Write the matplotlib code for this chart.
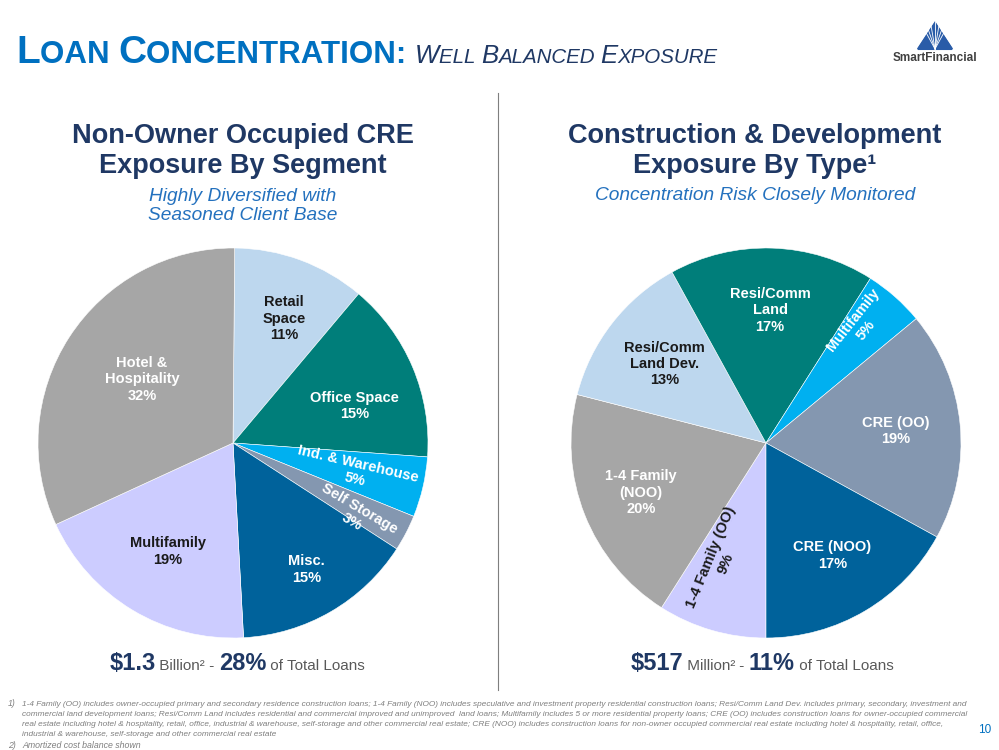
import matplotlib
matplotlib.use('Agg')
import matplotlib.pyplot as plt
import numpy as np
from matplotlib import font_manager
from matplotlib.patches import Polygon

names = {f.name for f in font_manager.fontManager.ttflist}
NARROW = 'Liberation Sans Narrow' if 'Liberation Sans Narrow' in names else 'Liberation Sans'
plt.rcParams['font.family'] = ['Liberation Sans', 'DejaVu Sans']

# data
cre_segments = ['Retail\nSpace', 'Office Space', 'Ind. & Warehouse', 'Self Storage',
                'Misc.', 'Multifamily', 'Hotel &\nHospitality']
cre_pct = [11, 15, 5, 3, 15, 19, 32]
cre_colors = ['#BDD7EE', '#007E7A', '#00B0F0', '#8497B0', '#00629B', '#CCCCFF', '#A6A6A6']

cd_types = ['1-4 Family (OO)', '1-4 Family\n(NOO)', 'Resi/Comm\nLand Dev.', 'Resi/Comm\nLand',
            'Multifamily', 'CRE (OO)', 'CRE (NOO)']
cd_pct = [9, 20, 13, 17, 5, 19, 17]
cd_colors = ['#CCCCFF', '#A6A6A6', '#BDD7EE', '#007E7A', '#00B0F0', '#8497B0', '#00629B']

NAVY = '#1F3864'
BLUE = '#0070C0'
SUB = '#2471BE'
GREY = '#595959'

W, H = 999, 750
fig = plt.figure(figsize=(9.99, 7.5), dpi=100)
fig.patch.set_facecolor('white')
rend = fig.canvas.get_renderer()


def fx(x):
    return x / W


def fy(y):
    return 1 - y / H


def runs(x, y, parts, ha='left'):
    # draw a line of text pieces with different styles on one baseline
    objs = []
    for txt, kw in parts:
        t = fig.text(0, fy(y), txt, va='baseline', ha='left', **kw)
        objs.append(t)
    widths = [t.get_window_extent(rend).width for t in objs]
    total = sum(widths)
    start = x - total / 2 if ha == 'center' else x
    for t, w in zip(objs, widths):
        t.set_x(fx(start))
        start += w


# header
big = dict(fontsize=28, fontweight='bold', color=BLUE, family=NARROW)
sm = dict(fontsize=22.5, fontweight='bold', color=BLUE, family=NARROW)
ibig = dict(fontsize=18.5, style='italic', color=NAVY, family=NARROW)
ism = dict(fontsize=14.8, style='italic', color=NAVY, family=NARROW)
runs(16, 63, [('L', big), ('OAN ', sm), ('C', big), ('ONCENTRATION: ', sm),
              ('W', ibig), ('ELL ', ism), ('B', ibig), ('ALANCED ', ism),
              ('E', ibig), ('XPOSURE', ism)])

# overlay for lines and logo, in pixel coordinates
ov = fig.add_axes([0, 0, 1, 1])
ov.set_xlim(0, W)
ov.set_ylim(H, 0)
ov.axis('off')
ov.plot([498, 498], [93, 690], color='#7F7F7F', lw=0.8)
ov.add_patch(Polygon([[935, 23], [918, 49], [952, 49]], closed=True, color='#2A5CA8'))
for a in np.linspace(-0.5, 0.5, 7):
    ov.plot([935, 935 + 28 * np.sin(a)], [49, 49 - 28 * np.cos(a)], color='white', lw=0.6)
ov.add_patch(Polygon([[935, 23], [918, 49], [952, 49]], closed=True, fill=False, ec='#2A5CA8', lw=1.5))
ov.text(935, 58, 'SmartFinancial', ha='center', va='center', fontsize=8.5, fontweight='bold',
        color='#404040')
ov.text(985, 730, '10', ha='center', va='center', fontsize=8.5, color=BLUE)


def draw_pie(cx, cy, r, values, colors, labels, start, dark, rot, radius, nudge):
    ax = fig.add_axes([fx(cx - r), fy(cy + r), 2 * r / W, 2 * r / H])
    wedges, _ = ax.pie(values, colors=colors, startangle=start, counterclock=False,
                       radius=1, wedgeprops=dict(edgecolor='white', linewidth=0.4))
    ax.set_xlim(-1, 1)
    ax.set_ylim(-1, 1)
    ax.set_aspect('auto')
    ax.axis('off')
    for i, (w, lab, v) in enumerate(zip(wedges, labels, values)):
        mid = (w.theta1 + w.theta2) / 2 - nudge.get(i, 0)
        rr = radius[i]
        x, y = rr * np.cos(np.radians(mid)), rr * np.sin(np.radians(mid))
        ang = 0
        if i in rot:
            ang = mid % 360
            if 90 < ang < 270:
                ang -= 180
        ax.text(x, y, f'{lab}\n{v}%', ha='center', va='center', rotation=ang,
                rotation_mode='anchor', fontsize=10.5, fontweight='bold', linespacing=1.2,
                color='#1A1A1A' if i in dark else 'white')
    return ax


draw_pie(233, 443, 195, cre_pct, cre_colors, cre_segments, 89.5, dark={0, 5}, rot={2, 3},
         radius=[0.69, 0.65, 0.65, 0.73, 0.75, 0.65, 0.57], nudge={0: 2, 1: 6, 3: 3, 6: 2})
draw_pie(766, 443, 195, cd_pct, cd_colors, cd_types, -90, dark={0, 2}, rot={0, 4},
         radius=[0.65, 0.69, 0.66, 0.68, 0.77, 0.67, 0.67], nudge={0: 6, 4: -3})

# panel titles
tkw = dict(ha='center', va='center', fontsize=19.5, fontweight='bold', color=NAVY, linespacing=1.2)
skw = dict(ha='center', va='center', fontsize=13.8, style='italic', color=SUB, linespacing=1.15)
fig.text(fx(243), fy(151), 'Non-Owner Occupied CRE\nExposure By Segment', **tkw)
fig.text(fx(243), fy(206), 'Highly Diversified with\nSeasoned Client Base', **skw)
fig.text(fx(755), fy(151), 'Construction & Development\nExposure By Type¹', **tkw)
fig.text(fx(755), fy(195), 'Concentration Risk Closely Monitored', **skw)

# totals under the pies
num = dict(fontsize=17, fontweight='bold', color=NAVY)
txt = dict(fontsize=11, color=GREY)
runs(237, 670, [(r'\$1.3', num), (' Billion²', txt), (' - ', txt), ('28%', num),
                (' of Total Loans', txt)], ha='center')
runs(762, 670, [(r'\$517', num), (' Million²', txt), (' - ', txt), ('11%', num),
                (' of Total Loans', txt)], ha='center')

# footnotes
notes = [
    '1-4 Family (OO) includes owner-occupied primary and secondary residence construction loans; 1-4 Family (NOO) includes speculative and investment property residential construction loans; Resi/Comm Land Dev. includes primary, secondary, investment and',
    'commercial land development loans; Resi/Comm Land includes residential and commercial improved and unimproved  land loans; Multifamily includes 5 or more residential property loans; CRE (OO) includes construction loans for owner-occupied commercial',
    'real estate including hotel & hospitality, retail, office, industrial & warehouse, self-storage and other commercial real estate; CRE (NOO) includes construction loans for non-owner occupied commercial real estate including hotel & hospitality, retail, office,',
    'industrial & warehouse, self-storage and other commercial real estate',
]
fkw = dict(fontsize=6.3, style='italic', color='#7F7F7F', family=NARROW, va='center', ha='left')
fig.text(fx(8), fy(704), '1)', **fkw)
note_objs = [fig.text(fx(22), fy(704 + 10 * i), line, **fkw) for i, line in enumerate(notes)]
widest = max(t.get_window_extent(rend).width for t in note_objs)
fsize = 6.3 * min(1.0, (970 - 22) / widest)
for t in note_objs:
    t.set_fontsize(fsize)
fig.text(fx(8), fy(746), '2)', **fkw)
fig.text(fx(22), fy(746), 'Amortized cost balance shown', **fkw)

fig.savefig('out.png', dpi=100, facecolor='white')
